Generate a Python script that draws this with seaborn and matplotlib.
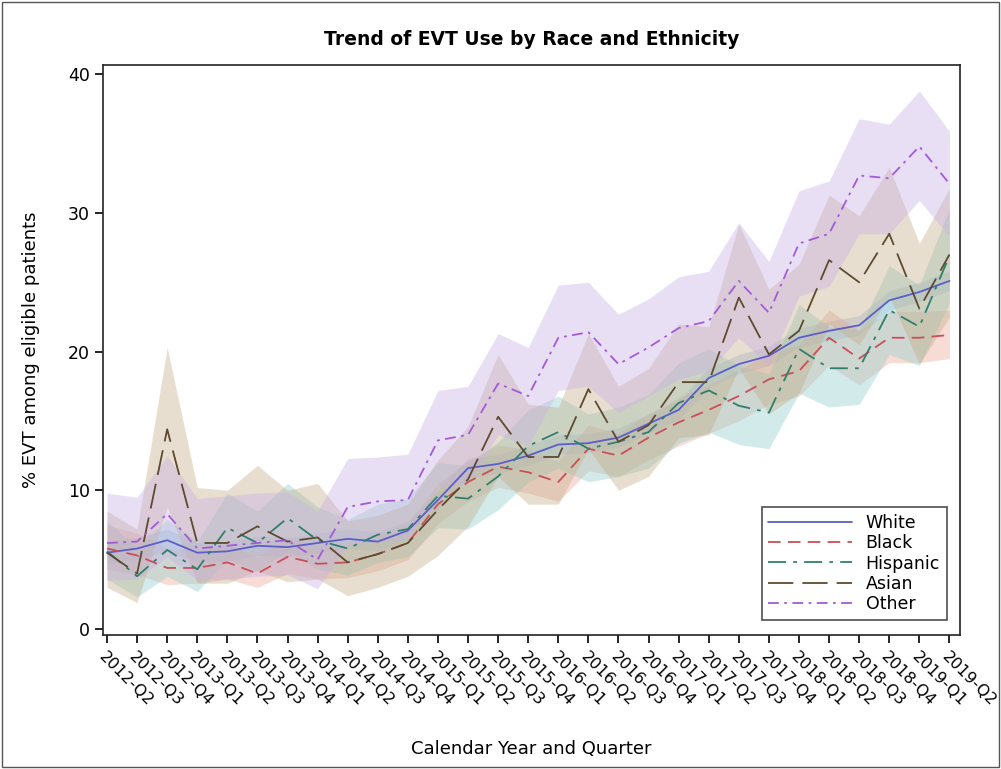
import numpy as np
import pandas as pd
import matplotlib
matplotlib.use("Agg")
import matplotlib.pyplot as plt
import seaborn as sns
from matplotlib.patches import Rectangle

quarters = ["2012-Q2", "2012-Q3", "2012-Q4", "2013-Q1", "2013-Q2", "2013-Q3", "2013-Q4",
            "2014-Q1", "2014-Q2", "2014-Q3", "2014-Q4", "2015-Q1", "2015-Q2", "2015-Q3",
            "2015-Q4", "2016-Q1", "2016-Q2", "2016-Q3", "2016-Q4", "2017-Q1", "2017-Q2",
            "2017-Q3", "2017-Q4", "2018-Q1", "2018-Q2", "2018-Q3", "2018-Q4", "2019-Q1",
            "2019-Q2"]
groups = ["White", "Black", "Hispanic", "Asian", "Other"]

white = [5.5, 5.8, 6.4, 5.5, 5.6, 6.0, 5.9, 6.2, 6.5, 6.3, 7.1, 9.3, 11.6, 11.9, 12.5, 13.3,
         13.4, 13.8, 14.8, 15.8, 18.1, 19.1, 19.7, 21.0, 21.5, 21.9, 23.7, 24.3, 25.1]
white_lo = [4.7, 5.0, 5.6, 4.8, 4.9, 5.3, 5.2, 5.5, 5.8, 5.6, 6.4, 8.6, 10.9, 11.2, 11.8, 12.6,
            12.7, 13.1, 14.1, 15.1, 17.4, 18.4, 19.0, 20.3, 20.8, 21.2, 23.0, 23.6, 24.4]
white_hi = [6.3, 6.6, 7.2, 6.2, 6.3, 6.7, 6.6, 6.9, 7.2, 7.0, 7.8, 10.0, 12.3, 12.6, 13.2, 14.0,
            14.1, 14.5, 15.5, 16.5, 18.8, 19.8, 20.4, 21.7, 22.2, 22.6, 24.4, 25.0, 25.8]

black = [5.8, 5.3, 4.4, 4.4, 4.8, 4.0, 5.2, 4.7, 4.8, 5.4, 6.2, 9.0, 10.6, 11.7, 11.3, 10.6,
         13.0, 12.5, 13.8, 14.9, 15.8, 16.8, 18.0, 18.6, 21.0, 19.5, 21.0, 21.0, 21.2]
black_lo = [4.3, 3.9, 3.2, 3.3, 3.6, 3.0, 4.0, 3.6, 3.7, 4.2, 5.0, 7.6, 9.2, 10.2, 9.8, 9.2,
            11.4, 11.0, 12.2, 13.2, 14.1, 15.0, 16.2, 16.8, 19.0, 17.6, 19.2, 19.2, 19.5]
black_hi = [7.5, 6.9, 5.8, 5.7, 6.1, 5.2, 6.6, 6.0, 6.1, 6.8, 7.6, 10.5, 12.1, 13.3, 12.9, 12.1,
            14.7, 14.1, 15.5, 16.7, 17.6, 18.7, 19.9, 20.5, 23.0, 21.5, 22.9, 22.9, 23.0]

hispanic = [5.6, 3.8, 5.7, 4.3, 7.3, 6.2, 8.0, 6.4, 5.8, 6.8, 7.2, 9.6, 9.4, 11.0, 13.2, 14.2,
            13.0, 13.5, 14.2, 16.3, 17.2, 16.1, 15.6, 20.2, 18.8, 18.8, 23.0, 21.8, 26.9]
hispanic_lo = [3.6, 2.3, 3.8, 2.7, 5.0, 4.2, 5.6, 4.3, 3.9, 4.8, 5.2, 7.3, 7.2, 8.6, 10.6, 11.6,
               10.6, 11.0, 11.6, 13.4, 14.2, 13.3, 13.0, 17.0, 16.0, 16.2, 19.8, 19.0, 23.5]
hispanic_hi = [7.8, 5.8, 7.9, 6.3, 9.8, 8.5, 10.5, 8.8, 7.9, 9.0, 9.4, 12.0, 11.8, 13.5, 15.8, 16.8,
               15.5, 16.0, 16.9, 19.2, 20.2, 19.0, 18.4, 23.4, 21.8, 21.6, 26.2, 24.8, 30.3]

asian = [5.5, 4.0, 14.4, 6.2, 6.2, 7.4, 6.3, 6.6, 4.8, 5.4, 6.2, 8.6, 10.8, 15.3, 12.4, 12.4,
         17.3, 13.5, 14.7, 17.8, 17.8, 23.9, 19.8, 21.5, 26.6, 25.0, 28.5, 23.1, 27.0]
asian_lo = [3.0, 1.9, 8.8, 3.3, 3.3, 4.2, 3.4, 3.6, 2.4, 3.0, 3.8, 5.3, 7.4, 11.0, 9.0, 9.0,
            13.0, 10.0, 11.0, 13.8, 14.0, 18.8, 15.5, 17.0, 22.0, 20.5, 24.0, 19.1, 22.5]
asian_hi = [8.5, 7.2, 20.3, 10.2, 10.0, 11.8, 10.0, 10.5, 7.8, 8.2, 9.0, 12.2, 14.6, 19.8, 16.2, 16.0,
            21.3, 17.5, 18.8, 22.0, 21.8, 29.2, 24.5, 26.3, 31.3, 29.8, 33.3, 27.8, 31.8]

other = [6.2, 6.3, 8.3, 5.8, 6.0, 6.2, 6.4, 5.0, 8.8, 9.2, 9.3, 13.6, 14.0, 17.7, 16.8, 21.0,
         21.4, 19.1, 20.3, 21.7, 22.2, 25.1, 22.8, 27.8, 28.5, 32.7, 32.5, 34.8, 32.1]
other_lo = [3.5, 3.6, 5.2, 3.5, 3.6, 3.8, 3.9, 2.9, 6.0, 6.3, 6.5, 10.2, 10.6, 14.0, 13.2, 17.2,
            17.5, 15.6, 16.8, 18.0, 18.6, 21.0, 19.0, 24.0, 24.7, 28.5, 28.5, 30.9, 28.3]
other_hi = [9.8, 9.5, 12.5, 9.4, 9.6, 9.8, 9.9, 8.5, 12.3, 12.4, 12.6, 17.2, 17.5, 21.3, 20.3, 24.8,
            25.0, 22.7, 23.8, 25.4, 25.8, 29.3, 26.5, 31.6, 32.3, 36.8, 36.4, 38.8, 35.9]

series = {"White": (white, white_lo, white_hi),
          "Black": (black, black_lo, black_hi),
          "Hispanic": (hispanic, hispanic_lo, hispanic_hi),
          "Asian": (asian, asian_lo, asian_hi),
          "Other": (other, other_lo, other_hi)}

line_colors = {"White": "#5b5fc7", "Black": "#c8505a", "Hispanic": "#2f7f6c",
               "Asian": "#5e4a30", "Other": "#a35ad8"}
band_colors = {"White": "#9fb8e6", "Black": "#eba796", "Hispanic": "#8fcfcb",
               "Asian": "#c4ad88", "Other": "#c9b0e6"}
dash_map = {"White": "", "Black": (7, 4), "Hispanic": (10, 4, 2, 4),
            "Asian": (14, 5), "Other": (6, 3, 1.5, 3)}

rows = []
for g in groups:
    vals = series[g][0]
    for i, q in enumerate(quarters):
        rows.append({"pos": i, "quarter": q, "group": g, "pct": vals[i]})
df = pd.DataFrame(rows)

sns.set_style("ticks")
plt.rcParams["font.family"] = ["DejaVu Sans"]
for key in ["text.color", "axes.labelcolor", "xtick.color", "ytick.color"]:
    plt.rcParams[key] = "black"

fig = plt.figure(figsize=(10.01, 7.69), dpi=100)
ax = fig.add_axes([0.103, 0.174, 0.856, 0.742])

x = np.arange(len(quarters))
for g in groups:
    _, lo, hi = series[g]
    ax.fill_between(x, lo, hi, color=band_colors[g], alpha=0.4, linewidth=0, zorder=1)

sns.lineplot(data=df, x="pos", y="pct", hue="group", style="group",
             hue_order=groups, style_order=groups, palette=line_colors,
             dashes=dash_map, linewidth=1.3, ax=ax, zorder=3)

ax.set_xlim(-0.13, 28.35)
ax.set_ylim(-0.45, 40.7)
ax.set_yticks([0, 10, 20, 30, 40])
ax.set_xticks(x)
ax.set_xticklabels(quarters, rotation=-45, ha="left", va="top",
                   rotation_mode="anchor", fontsize=11.5)
ax.tick_params(axis="y", labelsize=12.5, length=6, width=1.2, direction="out")
ax.tick_params(axis="x", length=6, width=1.2, direction="out", pad=4)
for sp in ax.spines.values():
    sp.set_visible(True)
    sp.set_linewidth(1.2)
    sp.set_color("#222222")

ax.set_xlabel("Calendar Year and Quarter", fontsize=13, labelpad=22)
ax.set_ylabel("% EVT among eligible patients", fontsize=13, labelpad=20)
ax.set_title("Trend of EVT Use by Race and Ethnicity", fontsize=13.5,
             fontweight="bold", pad=14)

handles, labels = ax.get_legend_handles_labels()
leg = ax.legend(handles, labels, loc="lower right", frameon=True, fancybox=False,
                fontsize=12.5, handlelength=4.8, borderpad=0.4, labelspacing=0.12,
                bbox_to_anchor=(0.995, 0.012))
leg.get_frame().set_edgecolor("#222222")
leg.get_frame().set_linewidth(1.2)

fig.patches.append(Rectangle((0.002, 0.003), 0.996, 0.994, transform=fig.transFigure,
                             fill=False, edgecolor="#555555", linewidth=1.0))

fig.savefig("out.png", dpi=100)
